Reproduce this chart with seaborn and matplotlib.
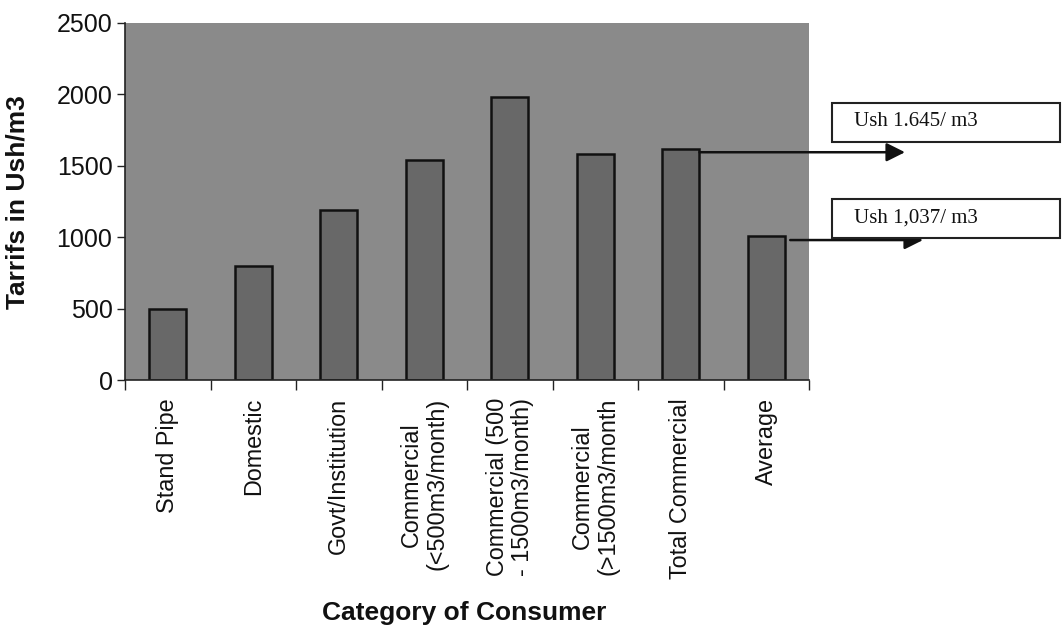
import matplotlib
matplotlib.use("Agg")
import matplotlib.pyplot as plt
from matplotlib.patches import Rectangle
import seaborn as sns
import pandas as pd

categories = ["Stand Pipe", "Domestic", "Govt/Institution",
              "Commercial\n(<500m3/month)", "Commercial (500\n- 1500m3/month)",
              "Commercial\n(>1500m3/month", "Total Commercial", "Average"]
tariffs = [500, 795, 1190, 1540, 1980, 1580, 1620, 1005]
y_ticks = [0, 500, 1000, 1500, 2000, 2500]
callouts = ["Ush 1.645/ m3", "Ush 1,037/ m3"]

sns.set_theme(style="white")
plt.rcParams["font.family"] = ["Liberation Sans", "DejaVu Sans"]

W, H = 1063, 630
fig = plt.figure(figsize=(W / 100, H / 100), dpi=100)
ax = fig.add_axes([125 / W, 1 - 380 / H, (809 - 125) / W, (380 - 23) / H])

df = pd.DataFrame({"cat": categories, "val": tariffs})
sns.barplot(data=df, x="cat", y="val", ax=ax, color="#686868", width=0.43,
            edgecolor="#111111", linewidth=1.8, saturation=1)

ax.set_facecolor("#8a8a8a")
ax.set_xlim(-0.5, len(categories) - 0.5)
ax.set_ylim(0, 2500)
ax.set_yticks(y_ticks)
ax.set_yticklabels([str(t) for t in y_ticks], fontsize=18, color="#111111")
ax.set_xticks(range(len(categories)))
ax.set_xticklabels(categories, rotation=90, fontsize=16.8, va="top", ha="center",
                   multialignment="center", color="#111111", linespacing=1.1)
ax.set_xticks([i - 0.5 for i in range(len(categories) + 1)], minor=True)
ax.tick_params(axis="x", which="major", length=0, pad=13)
ax.tick_params(axis="x", which="minor", length=7, width=1, color="#222222",
               direction="out", bottom=True)
ax.tick_params(axis="y", which="major", length=6, width=1, color="#222222",
               direction="out", left=True, pad=3)
for s in ["top", "right"]:
    ax.spines[s].set_visible(False)
for s in ["left", "bottom"]:
    ax.spines[s].set_color("#222222")
    ax.spines[s].set_linewidth(1.2)

ax.set_xlabel("")
ax.set_ylabel("")
fig.text(18 / W, 1 - 202 / H, "Tarrifs in Ush/m3", fontsize=19, fontweight="bold",
         rotation=90, ha="center", va="center", color="#111111")
fig.text(464 / W, 1 - 613 / H, "Category of Consumer", fontsize=19,
         fontweight="bold", ha="center", va="center", color="#111111")

# call-out boxes and arrows
box_tops = [103, 199]
for txt, top in zip(callouts, box_tops):
    fig.patches.append(Rectangle((832 / W, 1 - (top + 39) / H), (1060 - 832) / W, 39 / H,
                                 transform=fig.transFigure, facecolor="white",
                                 edgecolor="#222222", linewidth=1.5))
    fig.text(854 / W, 1 - (top + 19) / H, txt, fontsize=15,
             family=["Liberation Serif", "DejaVu Serif"], va="center", ha="left",
             color="#111111")

arrow_specs = [(6, 6.22, 905), (7, 7.28, 923)]
for idx, x0, xend in arrow_specs:
    yv = tariffs[idx] - 25
    ax.annotate("", xy=(xend / W, yv), xycoords=("figure fraction", "data"),
                xytext=(x0, yv), textcoords="data",
                arrowprops=dict(arrowstyle="-|>", color="#111111", lw=1.8,
                                mutation_scale=28, shrinkA=0, shrinkB=0),
                annotation_clip=False)

fig.savefig("out.png", dpi=100, facecolor="white")
